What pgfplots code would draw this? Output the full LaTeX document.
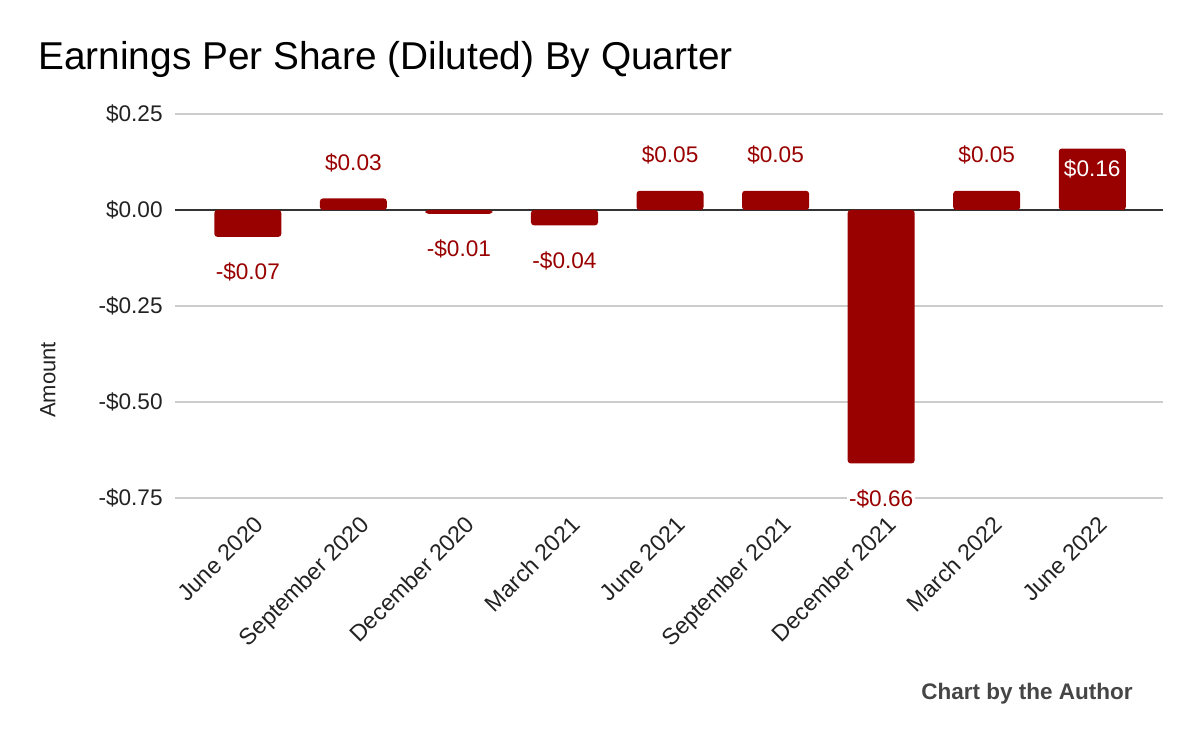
\documentclass[border=0pt]{standalone}
\usepackage{pgfplots}
\pgfplotsset{compat=1.18}
\usepackage{fontspec}
\setmainfont{Liberation Sans}
\definecolor{barred}{HTML}{990000}
\definecolor{txtgray}{HTML}{222222}
\definecolor{gridgray}{HTML}{CCCCCC}
\begin{document}
\begin{tikzpicture}[x=1pt,y=1pt]
\path[use as bounding box] (0,0) rectangle (600,371);
\node[anchor=base west,inner sep=0pt,font=\fontsize{19.4}{23}\selectfont,text=black] at (19,336) {Earnings Per Share (Diluted) By Quarter};
\node[anchor=base east,inner sep=0pt,font=\bfseries\fontsize{11.25}{13}\selectfont,text=black!73] at (566.5,21) {Chart by the Author};
\node[rotate=90,anchor=center,inner sep=0pt,font=\fontsize{11}{13}\selectfont,text=txtgray] at (24,181) {Amount};
\begin{axis}[
  at={(87.5pt,122pt)}, anchor=south west,
  scale only axis, width=494pt, height=192pt,
  xmin=-0.69, xmax=8.67, ymin=-0.75, ymax=0.25,
  axis line style={draw=none},
  ytick={-0.75,-0.5,-0.25,0,0.25},
  yticklabels={-\$0.75,-\$0.50,-\$0.25,\$0.00,\$0.25},
  xtick={0,...,8},
  xticklabels={June 2020,September 2020,December 2020,March 2021,June 2021,September 2021,December 2021,March 2022,June 2022},
  x tick label style={xshift=2.5pt,yshift=-8pt,rotate=45,anchor=north east,inner sep=0pt,font=\fontsize{11.6}{13}\selectfont},
  y tick label style={inner sep=0pt,xshift=-6pt,font=\fontsize{11.3}{13}\selectfont},
  tick label style={text=txtgray},
  major tick length=0pt,
  ymajorgrids, grid style={gridgray,line width=0.6pt},
  clip=false,
]
\draw[line width=1pt,color=black!80] (axis cs:-0.69,0) -- (axis cs:8.67,0);
% positive bars, labels above
\addplot[ybar,bar width=33.5pt,bar shift=0pt,fill=barred,draw=none,rounded corners=1.5pt,
  point meta=explicit symbolic,
  nodes near coords,
  every node near coord/.style={anchor=base,inner sep=0pt,yshift=14pt,text=barred,font=\fontsize{11.3}{13}\selectfont}]
  coordinates {(1,0.03) [\$0.03] (4,0.05) [\$0.05] (5,0.05) [\$0.05] (7,0.05) [\$0.05]};
% negative bars, labels below
\addplot[ybar,bar width=33.5pt,bar shift=0pt,fill=barred,draw=none,rounded corners=1.5pt,
  point meta=explicit symbolic,
  nodes near coords,
  every node near coord/.style={anchor=base,inner sep=1pt,fill=white,yshift=-21.5pt,text=barred,font=\fontsize{11.3}{13}\selectfont}]
  coordinates {(0,-0.07) [-\$0.07] (2,-0.01) [-\$0.01] (3,-0.04) [-\$0.04] (6,-0.66) [-\$0.66]};
% last bar, label inside
\addplot[ybar,bar width=33.5pt,bar shift=0pt,fill=barred,draw=none,rounded corners=1.5pt,
  point meta=explicit symbolic,
  nodes near coords,
  every node near coord/.style={anchor=base,inner sep=0pt,yshift=-14pt,text=white,font=\fontsize{11.3}{13}\selectfont}]
  coordinates {(8,0.16) [\$0.16]};
\end{axis}
\end{tikzpicture}
\end{document}
